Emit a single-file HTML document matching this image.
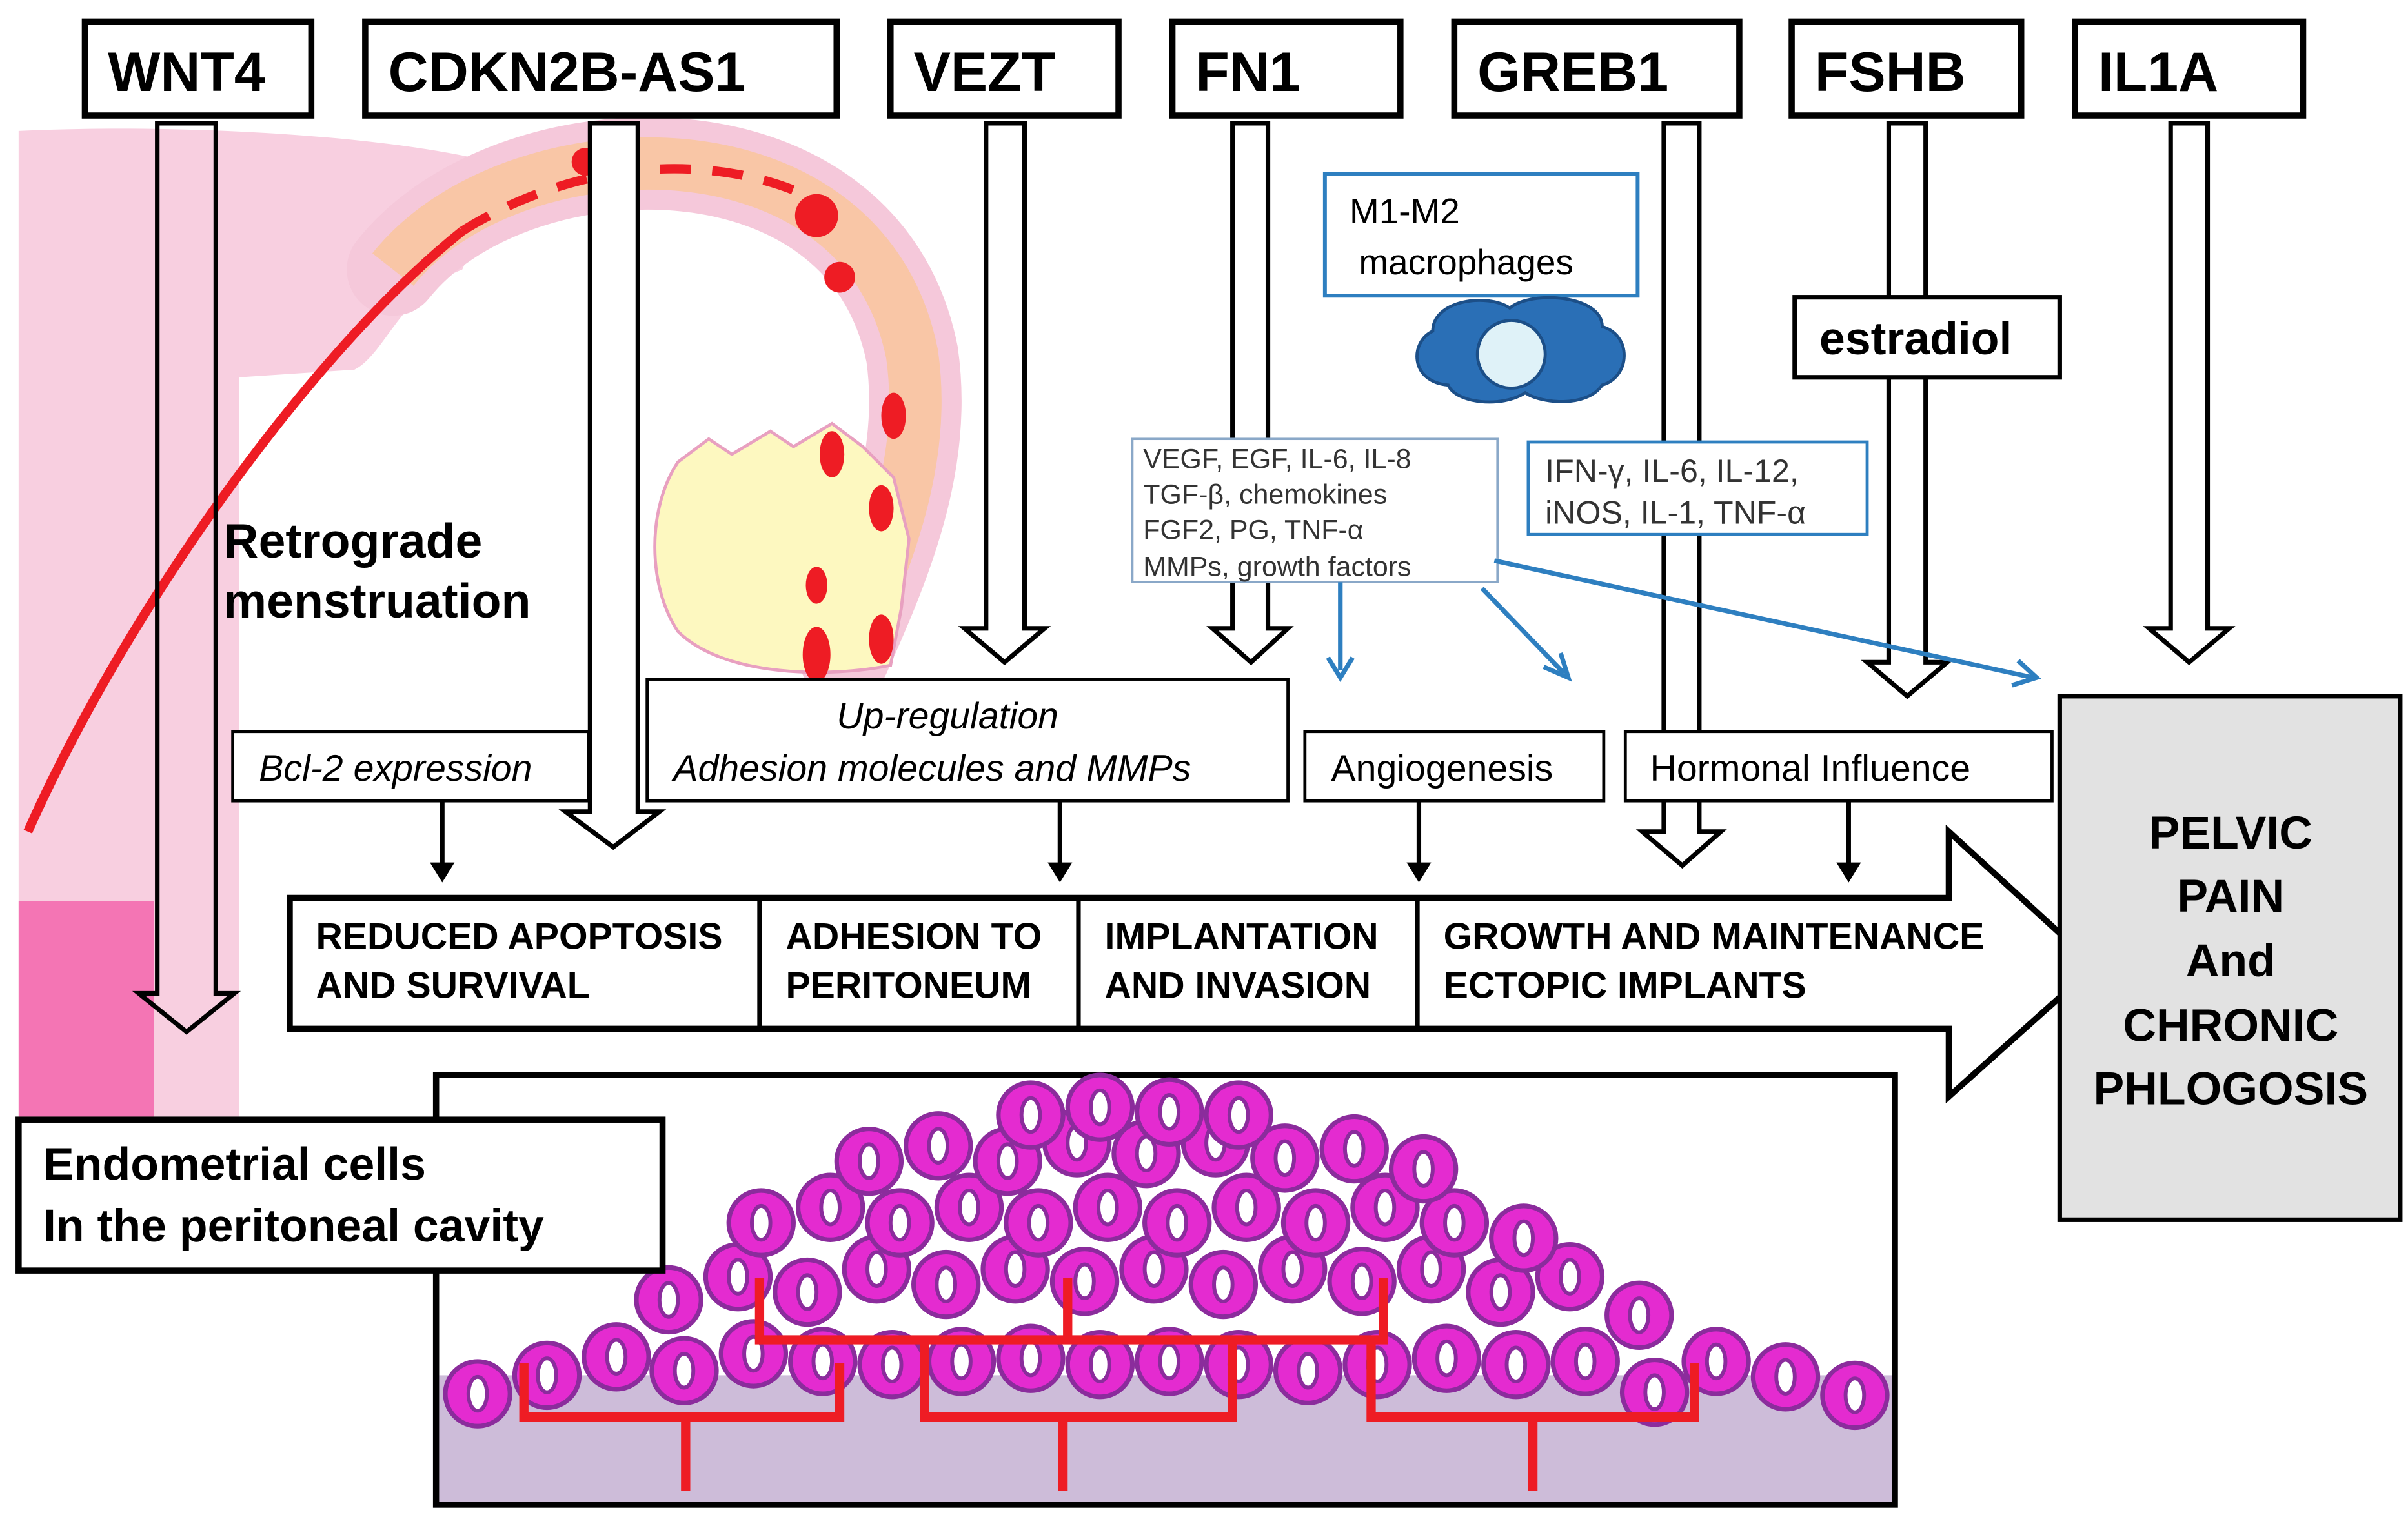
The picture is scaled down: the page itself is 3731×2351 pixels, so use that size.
<!DOCTYPE html>
<html><head><meta charset="utf-8"><style>html,body{margin:0;padding:0;background:#fff}svg{display:block}text{font-family:"Liberation Sans",sans-serif}</style></head>
<body>
<svg width="3731" height="2351" viewBox="0 0 1563 985" xmlns="http://www.w3.org/2000/svg">
<defs>
<symbol id="c" viewBox="-24 -24 48 48" width="48" height="48" overflow="visible">
<circle r="21" fill="#e42bd0" stroke="#8b2c9c" stroke-width="3"/>
<ellipse rx="6" ry="11" fill="#fff" stroke="#8b2c9c" stroke-width="2.5"/>
</symbol>
</defs>
<rect width="1563" height="985" fill="#fff"/>
<!-- uterus -->
<path d="M12,85 C120,80 260,88 330,108 L300,175 C260,190 250,230 230,240 L155,245 L155,725 L12,725Z" fill="#f8cfe0"/>
<path d="M12,585 L100,585 L100,725 L12,725Z" fill="#f475b4"/>
<path d="M255,175 C330,80 560,70 592,230 C602,300 575,365 548,425" fill="none" stroke="#f5c8da" stroke-width="60" stroke-linecap="round"/>
<path d="M255,175 C330,80 560,70 592,230 C602,300 575,365 548,425" fill="none" stroke="#f9c6a6" stroke-width="34"/>
<path d="M18,540 C80,400 200,230 300,150" fill="none" stroke="#ee1c24" stroke-width="6"/>
<path d="M300,150 C380,100 470,100 530,130" fill="none" stroke="#ee1c24" stroke-width="6" stroke-dasharray="20 14"/>
<path d="M440,300 L460,285 L475,295 L500,280 L515,290 L540,275 L560,290 L580,310 L590,350 L585,395 L578,432 C540,440 470,440 440,410 C420,380 420,330 440,300Z" fill="#fdf8c0" stroke="#e8a0c0" stroke-width="2"/>
<g fill="#ee1c24">
<circle cx="530" cy="140" r="14"/><circle cx="545" cy="180" r="10"/><circle cx="380" cy="105" r="9"/>
<ellipse cx="530" cy="425" rx="9" ry="18"/><ellipse cx="572" cy="415" rx="8" ry="16"/><ellipse cx="580" cy="270" rx="8" ry="15"/>
<ellipse cx="540" cy="295" rx="8" ry="15"/><ellipse cx="572" cy="330" rx="8" ry="15"/><ellipse cx="530" cy="380" rx="7" ry="12"/>
</g>
<text x="145" y="362" font-size="31.5" font-weight="bold">Retrograde</text>
<text x="145" y="401" font-size="31.5" font-weight="bold">menstruation</text>
<!-- gene boxes -->
<g fill="#fff" stroke="#000" stroke-width="4">
<rect x="55" y="14" width="147" height="61"/><rect x="237" y="14" width="306" height="61"/><rect x="578" y="14" width="148" height="61"/>
<rect x="761" y="14" width="148" height="61"/><rect x="944" y="14" width="185" height="61"/><rect x="1163" y="14" width="149" height="61"/><rect x="1347" y="14" width="148" height="61"/>
</g>
<g font-size="36" font-weight="bold">
<text x="70" y="59">WNT4</text><text x="252" y="59">CDKN2B-AS1</text><text x="593" y="59">VEZT</text><text x="776" y="59">FN1</text>
<text x="959" y="59">GREB1</text><text x="1178" y="59">FSHB</text><text x="1362" y="59">IL1A</text>
</g>
<!-- hollow arrows -->
<g fill="#fff" stroke="#000" stroke-width="3">
<path d="M102,80 H140 V645 H152 L121,670 L90,645 H102Z" fill="none"/>
<path d="M383,80 H414 V527 H428 L398,550 L367,527 H383Z"/>
<path d="M640,80 H665 V408 H678 L652,430 L626,408 H640Z"/>
<path d="M800,80 H823 V408 H836 L812,430 L787,408 H800Z"/>
<path d="M1080,80 H1103 V540 H1117 L1092,562 L1066,540 H1080Z"/>
<path d="M1226,80 H1250 V430 H1264 L1238,452 L1212,430 H1226Z"/>
<path d="M1409,80 H1433 V408 H1447 L1421,430 L1395,408 H1409Z"/>
</g>
<!-- macrophage -->
<rect x="860" y="113" width="203" height="79" fill="#fff" stroke="#2e7fc0" stroke-width="2.5"/>
<text x="876" y="145" font-size="23">M1-M2</text><text x="882" y="178" font-size="23">macrophages</text>
<path d="M930,215 C930,195 965,190 980,200 C995,188 1040,192 1040,212 C1060,218 1058,245 1040,250 C1030,265 1000,262 990,255 C975,265 945,262 940,250 C915,248 915,222 930,215Z" fill="#2a6fb6" stroke="#1c4f88" stroke-width="2"/>
<circle cx="981" cy="230" r="22" fill="#dff2f8" stroke="#1c4f88" stroke-width="2"/>
<rect x="1165" y="193" width="172" height="52" fill="#fff" stroke="#000" stroke-width="3"/>
<text x="1181" y="230" font-size="30" font-weight="bold">estradiol</text>
<rect x="735" y="285" width="237" height="93" fill="#fff" stroke="#8aa8c8" stroke-width="1.5"/>
<g font-size="18" fill="#333"><text x="742" y="304">VEGF, EGF, IL-6, IL-8</text><text x="742" y="327">TGF-β, chemokines</text><text x="742" y="350">FGF2, PG, TNF-α</text><text x="742" y="374">MMPs, growth factors</text></g>
<rect x="992" y="287" width="220" height="60" fill="#fff" stroke="#2e7fc0" stroke-width="2"/>
<g font-size="21" fill="#333"><text x="1003" y="313">IFN-γ, IL-6, IL-12,</text><text x="1003" y="340">iNOS, IL-1, TNF-α</text></g>
<g stroke="#2e7fc0" stroke-width="3" fill="none">
<path d="M870,378 V435"/><path d="M862,427 L870,440 L878,427"/>
<path d="M962,382 L1015,437"/><path d="M1002,433 L1018,440 L1013,424"/>
<path d="M970,364 L1320,440"/><path d="M1306,445 L1322,440 L1310,429"/>
</g>
<!-- label boxes -->
<g fill="#fff" stroke="#000" stroke-width="2">
<rect x="151" y="475" width="231" height="45"/><rect x="420" y="441" width="416" height="79"/>
<rect x="847" y="475" width="194" height="45"/><rect x="1055" y="475" width="277" height="45"/>
</g>
<text x="168" y="507" font-size="24" font-style="italic">Bcl-2 expression</text>
<text x="543" y="473" font-size="24" font-style="italic">Up-regulation</text>
<text x="437" y="507" font-size="24" font-style="italic">Adhesion molecules and MMPs</text>
<text x="864" y="507" font-size="24">Angiogenesis</text>
<text x="1071" y="507" font-size="24">Hormonal Influence</text>
<g stroke="#000" stroke-width="3"><path d="M287,520 V565M688,520 V565M921,520 V565M1200,520 V565"/></g>
<g fill="#000"><path d="M279,560 L287,573 L295,560Z M680,560 L688,573 L696,560Z M913,560 L921,573 L929,560Z M1192,560 L1200,573 L1208,560Z"/></g>
<!-- big arrow -->
<path d="M188,583 H1265 V540 L1360,627 L1265,712 V668 H188Z" fill="#fff" stroke="#000" stroke-width="4"/>
<path d="M493,583 V668 M700,583 V668 M920,583 V668" stroke="#000" stroke-width="3"/>
<g font-size="24" font-weight="bold">
<text x="205" y="616">REDUCED APOPTOSIS</text><text x="205" y="648">AND SURVIVAL</text>
<text x="510" y="616">ADHESION TO</text><text x="510" y="648">PERITONEUM</text>
<text x="717" y="616">IMPLANTATION</text><text x="717" y="648">AND INVASION</text>
<text x="937" y="616">GROWTH AND MAINTENANCE</text><text x="937" y="648">ECTOPIC IMPLANTS</text>
</g>
<rect x="1337" y="452" width="221" height="340" fill="#e2e2e2" stroke="#000" stroke-width="3"/>
<g font-size="30" font-weight="bold" text-anchor="middle">
<text x="1448" y="551">PELVIC</text><text x="1448" y="592">PAIN</text><text x="1448" y="634">And</text><text x="1448" y="676">CHRONIC</text><text x="1448" y="717">PHLOGOSIS</text>
</g>
<!-- bottom box -->
<rect x="283" y="698" width="947" height="279" fill="#fff" stroke="#000" stroke-width="4"/>
<rect x="285" y="893" width="943" height="82" fill="#cdbcd9"/>
<g>
<use href="#c" x="286" y="881"/><use href="#c" x="331" y="869"/><use href="#c" x="376" y="857"/><use href="#c" x="420" y="866"/><use href="#c" x="465" y="855"/>
<use href="#c" x="510" y="860"/><use href="#c" x="555" y="862"/><use href="#c" x="600" y="860"/><use href="#c" x="645" y="858"/><use href="#c" x="690" y="862"/>
<use href="#c" x="735" y="860"/><use href="#c" x="780" y="862"/><use href="#c" x="825" y="866"/><use href="#c" x="870" y="862"/><use href="#c" x="915" y="858"/>
<use href="#c" x="960" y="862"/><use href="#c" x="1005" y="860"/><use href="#c" x="1050" y="880"/><use href="#c" x="1090" y="860"/><use href="#c" x="1135" y="870"/><use href="#c" x="1180" y="882"/>
<use href="#c" x="410" y="820"/><use href="#c" x="455" y="805"/><use href="#c" x="500" y="815"/><use href="#c" x="545" y="800"/><use href="#c" x="590" y="810"/><use href="#c" x="635" y="800"/><use href="#c" x="680" y="808"/><use href="#c" x="725" y="800"/><use href="#c" x="770" y="810"/><use href="#c" x="815" y="800"/><use href="#c" x="860" y="808"/><use href="#c" x="905" y="800"/><use href="#c" x="950" y="815"/><use href="#c" x="995" y="805"/><use href="#c" x="1040" y="830"/>
<use href="#c" x="470" y="770"/><use href="#c" x="515" y="760"/><use href="#c" x="560" y="770"/><use href="#c" x="605" y="760"/><use href="#c" x="650" y="770"/><use href="#c" x="695" y="760"/><use href="#c" x="740" y="770"/><use href="#c" x="785" y="760"/><use href="#c" x="830" y="770"/><use href="#c" x="875" y="760"/><use href="#c" x="920" y="770"/><use href="#c" x="965" y="780"/>
<use href="#c" x="540" y="730"/><use href="#c" x="585" y="720"/><use href="#c" x="630" y="730"/><use href="#c" x="675" y="718"/><use href="#c" x="720" y="725"/><use href="#c" x="765" y="718"/><use href="#c" x="810" y="728"/><use href="#c" x="855" y="722"/><use href="#c" x="900" y="735"/>
<use href="#c" x="645" y="700"/><use href="#c" x="690" y="695"/><use href="#c" x="735" y="698"/><use href="#c" x="780" y="700"/>
</g>
<g fill="none" stroke="#ee1c24" stroke-width="6">
<path d="M340,885 V920 H545 V885 M445,920 V968"/>
<path d="M600,870 V920 H800 V870 M690,920 V968"/>
<path d="M890,870 V920 H1100 V885 M995,920 V968"/>
<path d="M493,830 V870 H898 V830 M693,870 V830"/>
</g>
<rect x="12" y="727" width="418" height="98" fill="#fff" stroke="#000" stroke-width="4"/>
<text x="28" y="766" font-size="30" font-weight="bold">Endometrial cells</text>
<text x="28" y="806" font-size="30" font-weight="bold">In the peritoneal cavity</text>
</svg>
</body></html>
